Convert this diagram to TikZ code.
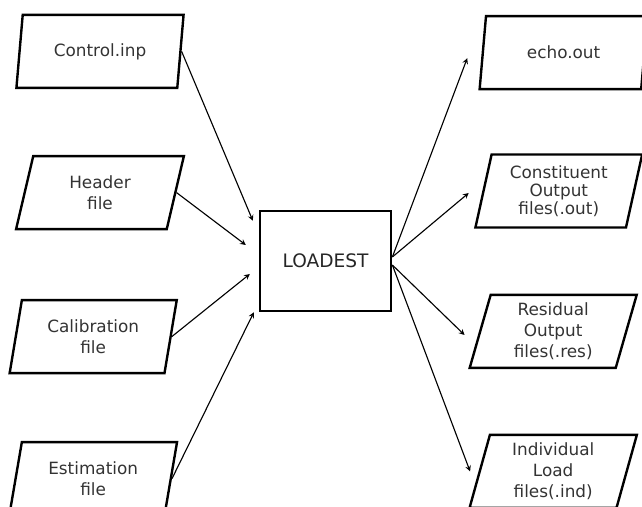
\documentclass[tikz,border=0pt]{standalone}
\usepackage{fontspec}
\setmainfont{DejaVu Sans}
\usepackage{tikz}
\usetikzlibrary{shapes.geometric}

\begin{document}
\begin{tikzpicture}[
    io/.style={trapezium, trapezium left angle=77, trapezium right angle=103, trapezium stretches=true,
        draw, line width=1.7pt, minimum width=4.2cm, minimum height=1.825cm, inner sep=0pt,
        align=center, text=black!80, font=\fontsize{12}{15}\selectfont},
    box/.style={draw, line width=1.8pt, minimum width=3.275cm, minimum height=2.5cm,
        text=black!85, font=\fontsize{13.2}{16}\selectfont},
    arr/.style={->, line width=0.8pt, >=stealth}
]
    \useasboundingbox (-8.14, 6.525) rectangle (7.91, -6.15);
    \clip (-8.14, 6.525) rectangle (7.91, -6.15);

    % LOADEST
    \node[box] (load) at (0, 0) {LOADEST};

    % Inputs
    \node[io] (ctl) at (-5.64, 5.24) {Control.inp};
    \node[io] (hdr) at (-5.64, 1.71) {Header\\file};
    \node[io] (cal) at (-5.81, -1.89) {Calibration\\file};
    \node[io] (est) at (-5.81, -5.44) {Estimation\\file};

    % Outputs
    \node[io] (echo) at (5.95, 5.21) {echo.out};
    \node[io, font=\fontsize{12}{12.8}\selectfont] (cons) at (5.83, 1.75) {Constituent\\Output\\files(.out)};
    \node[io] (res) at (5.69, -1.76) {Residual\\Output\\files(.res)};
    \node[io] (ind) at (5.69, -5.26) {Individual\\Load\\files(.ind)};

    % Connections
    \draw[arr] (ctl.east) -- ([shift={(-0.15,-0.275)}]load.north west);
    \draw[arr] (hdr.east) -- ([shift={(-0.325,0.4)}]load.west);
    \draw[arr] (cal.east) -- ([shift={(-0.225,-0.325)}]load.west);
    \draw[arr] (est.east) -- ([shift={(-0.125,0)}]load.south west);
    \draw[arr] ([yshift=1mm]load.east) -- ([shift={(-0.36,-0.14)}]echo.west);
    \draw[arr] ([yshift=1mm]load.east) -- ([shift={(-0.34,-0.05)}]cons.west);
    \draw[arr] ([yshift=-1mm]load.east) -- ([shift={(-0.36,-0.09)}]res.west);
    \draw[arr] ([yshift=-1mm]load.east) -- ([shift={(-0.21,0)}]ind.west);
\end{tikzpicture}
\end{document}
